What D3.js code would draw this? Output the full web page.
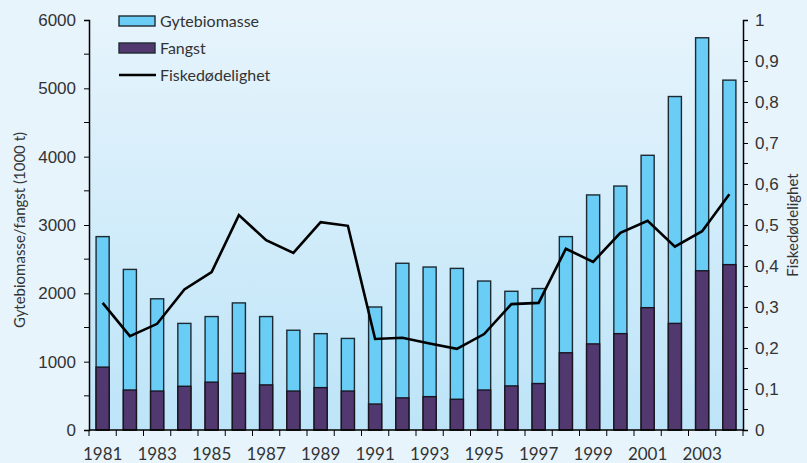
<!DOCTYPE html>
<html lang="no">
<head>
<meta charset="UTF-8">
<title>Gytebiomasse og fangst</title>
<script src="https://cdn.jsdelivr.net/npm/d3@7"></script>
<style>
  html, body { margin: 0; padding: 0; background: #e7f4fc; }
  svg { display: block; font-family: Lato, "Open Sans", sans-serif; }
  .tick text { fill: #333; }
</style>
</head>
<body>
<svg id="chart" width="807" height="463"></svg>
<script>
// years on the x axis
var years = d3.range(1981, 2005);

// spawning biomass, 1000 t
var gytebiomasse = [2830, 2350, 1920, 1560, 1660, 1860, 1660, 1460, 1410, 1340,
                    1800, 2440, 2385, 2365, 2180, 2030, 2070, 2830, 3440, 3570,
                    4020, 4880, 5740, 5120];

// catch, 1000 t
var fangst = [920, 585, 570, 640, 700, 830, 660, 570, 620, 570,
              380, 470, 488, 450, 585, 645, 680, 1130, 1260, 1410,
              1790, 1560, 2330, 2420];

// fishing mortality (right axis)
var fiskedodelighet = [0.31, 0.229, 0.259, 0.343, 0.385, 0.524, 0.463, 0.432, 0.507, 0.498,
                       0.222, 0.225, 0.211, 0.198, 0.234, 0.307, 0.31, 0.442, 0.41, 0.481,
                       0.51, 0.447, 0.485, 0.575];

var leftTicks = d3.range(0, 6001, 1000);
var rightTicks = d3.range(0, 1.0001, 0.1);

var margin = {top: 20, right: 64, bottom: 33, left: 89};
var width = 807 - margin.left - margin.right;
var height = 463 - margin.top - margin.bottom;

var svg = d3.select("#chart");

// background gradient of the plot area
var defs = svg.append("defs");
var grad = defs.append("linearGradient")
    .attr("id", "bg").attr("x1", 0).attr("y1", 0).attr("x2", 0).attr("y2", 1);
grad.append("stop").attr("offset", "0%").attr("stop-color", "#e6f4fc");
grad.append("stop").attr("offset", "100%").attr("stop-color", "#bde4f8");

var g = svg.append("g").attr("transform", "translate(" + margin.left + "," + margin.top + ")");

g.append("rect").attr("width", width).attr("height", height).attr("fill", "url(#bg)");

var x = d3.scaleBand().domain(years).range([0, width]).paddingInner(0.52).paddingOuter(0.26);
var xb = d3.scaleBand().domain(years).range([0, width]);
var y = d3.scaleLinear().domain([0, 6000]).range([height, 0]);
var y2 = d3.scaleLinear().domain([0, 1]).range([height, 0]);

// bars: biomass behind, catch in front
g.selectAll("rect.bio").data(years).enter().append("rect")
    .attr("class", "bio")
    .attr("x", function (d) { return x(d); })
    .attr("width", x.bandwidth())
    .attr("y", function (d, i) { return y(gytebiomasse[i]); })
    .attr("height", function (d, i) { return height - y(gytebiomasse[i]); })
    .attr("fill", "#69cdf6").attr("stroke", "#1e2a33").attr("stroke-width", 1.4);

g.selectAll("rect.fangst").data(years).enter().append("rect")
    .attr("class", "fangst")
    .attr("x", function (d) { return x(d); })
    .attr("width", x.bandwidth())
    .attr("y", function (d, i) { return y(fangst[i]); })
    .attr("height", function (d, i) { return height - y(fangst[i]); })
    .attr("fill", "#51396f").attr("stroke", "#1a1420").attr("stroke-width", 1.4);

// fishing mortality line
var line = d3.line()
    .x(function (d, i) { return x(years[i]) + x.bandwidth() / 2; })
    .y(function (d) { return y2(d); });

g.append("path").datum(fiskedodelighet)
    .attr("d", line)
    .attr("fill", "none").attr("stroke", "#000").attr("stroke-width", 2.6)
    .attr("stroke-linejoin", "miter");

// left axis
var yAxis = d3.axisLeft(y).tickValues(leftTicks).tickSize(5).tickPadding(8).tickFormat(d3.format("d"));
var ga = g.append("g").call(yAxis);
ga.selectAll(".tick text").attr("font-size", 17);
ga.append("g").selectAll("line").data(d3.range(500, 6000, 1000)).enter().append("line")
    .attr("x1", -5).attr("x2", 0)
    .attr("y1", function (d) { return y(d); }).attr("y2", function (d) { return y(d); })
    .attr("stroke", "#000");

// right axis
var y2Axis = d3.axisRight(y2).tickValues(rightTicks).tickSize(5).tickPadding(7)
    .tickFormat(function (d) { return d === 0 ? "0" : (d >= 0.999 ? "1" : d3.format(".1f")(d).replace(".", ",")); });
var gr = g.append("g").attr("transform", "translate(" + width + ",0)").call(y2Axis);
gr.selectAll(".tick text").attr("font-size", 17);
gr.append("g").selectAll("line").data(d3.range(0.05, 1, 0.1)).enter().append("line")
    .attr("x1", 0).attr("x2", 5)
    .attr("y1", function (d) { return y2(d); }).attr("y2", function (d) { return y2(d); })
    .attr("stroke", "#000");

// bottom axis: ticks at category boundaries, labels at odd years
var gx = g.append("g").attr("transform", "translate(0," + height + ")");
gx.append("line").attr("x1", 0).attr("x2", width).attr("stroke", "#000").attr("stroke-width", 1.5);
gx.selectAll("line.tk").data(years.concat([2005])).enter().append("line")
    .attr("class", "tk")
    .attr("x1", function (d, i) { return i * xb.bandwidth(); })
    .attr("x2", function (d, i) { return i * xb.bandwidth(); })
    .attr("y1", 0).attr("y2", 6).attr("stroke", "#000");
gx.selectAll("text").data(years.filter(function (d) { return d % 2 === 1; })).enter().append("text")
    .attr("x", function (d) { return x(d) + x.bandwidth() / 2; })
    .attr("y", 30)
    .attr("text-anchor", "middle").attr("font-size", 17).attr("fill", "#333")
    .text(function (d) { return d; });

g.selectAll(".domain").attr("stroke", "#000").attr("stroke-width", 1.5);

// axis titles
svg.append("text")
    .attr("transform", "translate(25," + (margin.top + height / 2 + 5) + ") rotate(-90)")
    .attr("text-anchor", "middle").attr("font-size", 15).attr("fill", "#333")
    .text("Gytebiomasse/fangst (1000 t)");
svg.append("text")
    .attr("transform", "translate(798," + (margin.top + 205) + ") rotate(-90)")
    .attr("text-anchor", "middle").attr("font-size", 15).attr("fill", "#333")
    .text("Fiskedødelighet");

// legend
var legend = [
  {name: "Gytebiomasse", type: "rect", color: "#69cdf6"},
  {name: "Fangst", type: "rect", color: "#51396f"},
  {name: "Fiskedødelighet", type: "line", color: "#000"}
];
var lg = svg.append("g").attr("transform", "translate(119,21)");
legend.forEach(function (d, i) {
  var row = lg.append("g").attr("transform", "translate(0," + i * 27 + ")");
  if (d.type === "rect") {
    row.append("rect").attr("x", 0).attr("y", -5).attr("width", 36).attr("height", 10)
      .attr("fill", d.color).attr("stroke", "#1e2a33").attr("stroke-width", 1.4);
  } else {
    row.append("line").attr("x1", 0).attr("x2", 37).attr("stroke", d.color).attr("stroke-width", 2.6);
  }
  row.append("text").attr("x", 41).attr("y", 6).attr("font-size", 16).attr("fill", "#333").text(d.name);
});
</script>
</body>
</html>
